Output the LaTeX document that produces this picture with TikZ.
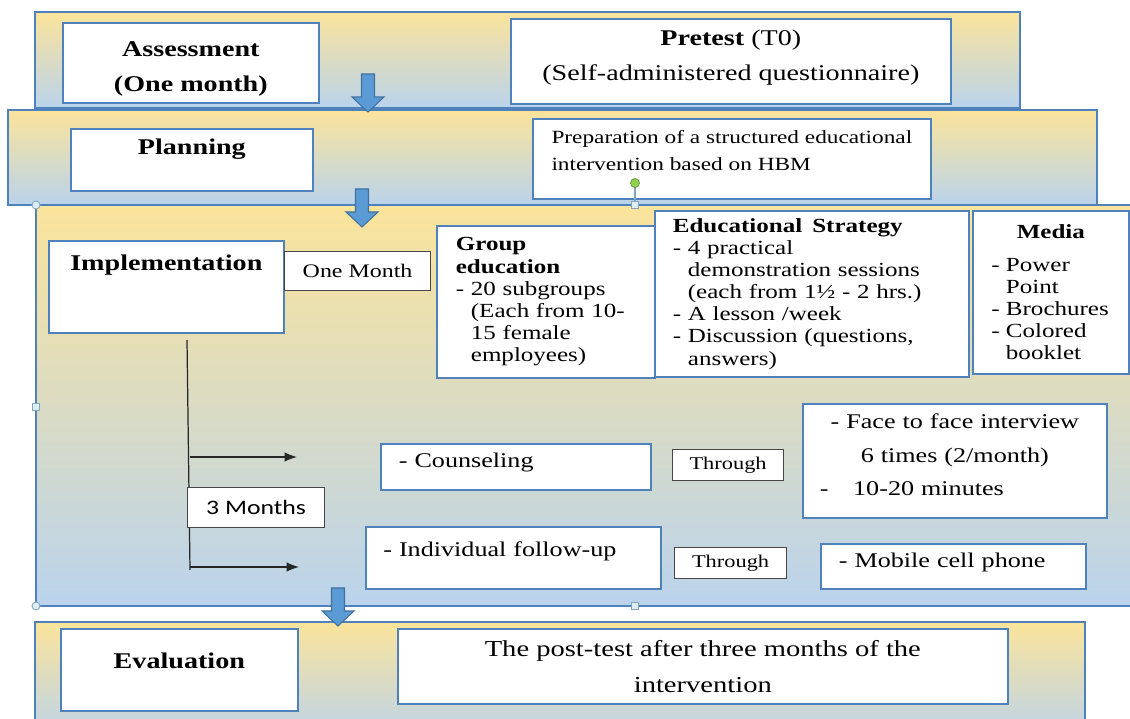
\documentclass[tikz,border=0pt]{standalone}
\usepackage{fontspec}
\setmainfont{Liberation Serif}[FakeStretch=1.25]
\newfontfamily\califont{Carlito}[FakeStretch=1.25]
\usepackage{tikz}
\usetikzlibrary{arrows.meta}

\definecolor{bandtop}{RGB}{251,228,155}
\definecolor{bandbot}{RGB}{186,211,236}
\definecolor{bandline}{RGB}{79,129,189}
\definecolor{arrowfill}{RGB}{91,155,213}
\definecolor{arrowline}{RGB}{65,113,156}
\definecolor{tagline}{RGB}{70,70,70}
\definecolor{handlefill}{RGB}{222,238,244}
\definecolor{handleline}{RGB}{130,165,190}
\definecolor{handlegreen}{RGB}{146,208,80}

\tikzset{
    band/.style={draw=bandline, line width=1.2pt, top color=bandtop, bottom color=bandbot},
    box/.style={draw=bandline, line width=1pt, fill=white, inner sep=0pt, anchor=north west},
    tagbox/.style={draw=tagline, line width=0.7pt, fill=white, inner sep=0pt, anchor=north west},
    blockarrow/.style={draw=arrowline, line width=0.6pt, fill=arrowfill},
    treeline/.style={draw=black!85, line width=0.7pt},
    handle/.style={draw=handleline, line width=0.5pt, fill=handlefill},
    headfont/.style={font=\fontsize{12.8}{20.4}\selectfont\bfseries},
    listfont/.style={font=\fontsize{11.4}{12.6}\selectfont},
    itemfont/.style={font=\fontsize{11.9}{19}\selectfont},
}

\begin{document}
\begin{tikzpicture}[x=0.02cm, y=-0.02cm]
    \clip (0,0) rectangle (1130,719);
    \fill[white] (0,0) rectangle (1130,719);

    % the four phases
    \draw[band] (35,12) rectangle (1020,108);
    \draw[band] (8,110) rectangle (1097,205);
    \draw[band] (36,205) rectangle (1140,606);
    \draw[band] (35,622) rectangle (1085,740);

    % assessment
    \node[box, headfont, align=center, minimum width=5.12cm, text height=1.38cm, text depth=0.22cm] (assess) at (62,22) {Assessment\\(One month)};
    \node[box, align=center, minimum width=8.8cm, text height=1.24cm, text depth=0.46cm, font=\fontsize{12.8}{20}\selectfont] (pretest) at (510,18) {\textbf{Pretest} (T0)\\(Self-administered questionnaire)};

    % planning
    \node[box, headfont, minimum width=4.84cm, text height=0.52cm, text depth=0.72cm] (plan) at (70,128) {Planning};
    \node[box, align=left, minimum width=7.96cm, text height=1.04cm, text depth=0.56cm, font=\fontsize{10.6}{15.3}\selectfont] (prep) at (532,118) {Preparation of a structured educational\\intervention based on HBM};

    % implementation
    \node[box, headfont, minimum width=4.7cm, text height=0.6cm, text depth=1.24cm] (impl) at (48,240) {Implementation};
    \node[tagbox, minimum width=2.92cm, minimum height=0.78cm, font=\fontsize{10.9}{13}\selectfont] (onemonth) at (284,251) {One Month};
    \node[box, listfont, align=left, text width=3.6cm, minimum width=4.36cm, minimum height=3.04cm] (group) at (436,225)
        {\textbf{Group}\\\textbf{education}\\- 20 subgroups\\\hphantom{- }(Each from 10-\\\hphantom{- }15 female\\\hphantom{- }employees)};
    \node[box, listfont, align=left, text width=5.56cm, minimum width=6.28cm, minimum height=3.32cm] (strategy) at (654,210)
        {\textbf{Educational\hspace{0.5em}Strategy}\\- 4 practical\\\hphantom{- }demonstration sessions\\\hphantom{- }(each from 1½ - 2 hrs.)\\- A lesson /week\\- Discussion (questions,\\\hphantom{- }answers)};
    \node[box, listfont, align=left, minimum width=3.12cm, minimum height=3.26cm] (media) at (972,210)
        {\makebox[2.38cm]{\bfseries Media}\\[6pt]- Power\\\hphantom{- }Point\\- Brochures\\- Colored\\\hphantom{- }booklet};

    % three months follow-up
    \coordinate (trunk) at (187,340);
    \coordinate (trunkend) at (190,570);
    \coordinate (fork1) at (189.5,457);
    \coordinate (fork2) at (190,567);
    \coordinate (tip1) at (297,457);
    \coordinate (tip2) at (299,567);
    \draw[treeline] (trunk) -- (trunkend);
    \draw[treeline, -{Latex[length=0.25cm,width=0.19cm]}] (fork1) -- (tip1);
    \draw[treeline, -{Latex[length=0.25cm,width=0.19cm]}] (fork2) -- (tip2);
    \node[tagbox, minimum width=2.74cm, minimum height=0.8cm, font=\califont\fontsize{11.7}{14}\selectfont] (months) at (187,487) {3 Months};

    \node[box, itemfont, align=left, minimum width=5.4cm, text width=4.68cm, text height=0.48cm, text depth=0.44cm] (counsel) at (380,443) {- Counseling};
    \node[tagbox, minimum width=2.22cm, minimum height=0.62cm, font=\fontsize{10.2}{12}\selectfont] (through1) at (672,449) {Through};
    \node[box, itemfont, align=center, text width=5.4cm, minimum width=6.08cm, text height=0.5cm, text depth=1.78cm] (face) at (802,403)
        {- Face to face interview\\6 times (2/month)\\\makebox[5.4cm][l]{-\hspace{14pt}10-20 minutes}};

    \node[box, itemfont, align=left, minimum width=5.9cm, text width=5.2cm, text height=0.6cm, text depth=0.64cm] (indiv) at (365,526) {- Individual follow-up};
    \node[tagbox, minimum width=2.24cm, minimum height=0.62cm, font=\fontsize{10.2}{12}\selectfont] (through2) at (674,547) {Through};
    \node[box, itemfont, align=left, minimum width=5.3cm, text width=4.58cm, text height=0.48cm, text depth=0.42cm] (mobile) at (820,543) {- Mobile cell phone};

    % evaluation
    \node[box, headfont, minimum width=4.74cm, text height=0.8cm, text depth=0.84cm] (eval) at (60,628) {Evaluation};
    \node[box, align=center, minimum width=12.2cm, minimum height=1.5cm, font=\fontsize{13}{20.4}\selectfont] (post) at (397,628)
        {The post-test after three months of the\\intervention};

    % arrows between phases
    \foreach \ax/\ay in {368/74, 362/189, 338/588}
        \draw[blockarrow] (\ax-6.5,\ay) -- (\ax+6.5,\ay) -- (\ax+6.5,\ay+23) -- (\ax+16,\ay+23)
            -- (\ax,\ay+38) -- (\ax-16,\ay+23) -- (\ax-6.5,\ay+23) -- cycle;

    % handles
    \draw[handleline, line width=0.6pt] (635,183) -- (635,205);
    \draw[draw=handlegreen!70!black, line width=0.4pt, fill=handlegreen] (635,183) circle[radius=0.09cm];
    \foreach \hx/\hy in {36/205, 36/606}
        \draw[handle] (\hx,\hy) circle[radius=0.08cm];
    \foreach \hx/\hy in {36/407, 635/205, 635/606}
        \draw[handle] (\hx-3.5,\hy-3.5) rectangle (\hx+3.5,\hy+3.5);
\end{tikzpicture}
\end{document}
